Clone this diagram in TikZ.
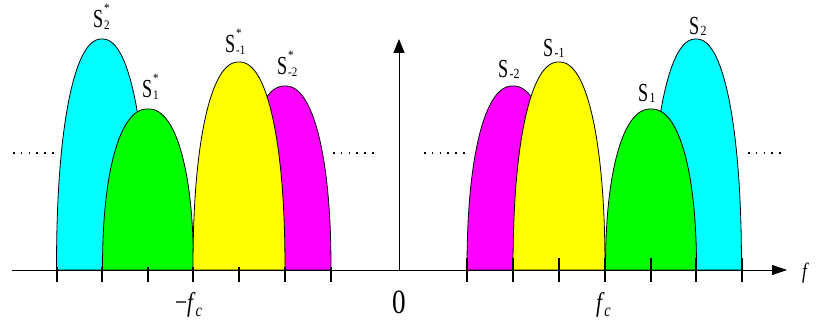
\documentclass[tikz,border=0pt]{standalone}
\usepackage{fontspec}
\setmainfont{Liberation Serif}
\newfontfamily\lblfont[FakeStretch=0.7]{Liberation Serif}
\newfontfamily\subfont[FakeStretch=0.85]{Liberation Serif}
\newfontfamily\tickfont[FakeStretch=0.8]{Liberation Serif}
\usetikzlibrary{arrows.meta}
\definecolor{lcyan}{RGB}{0,255,255}
\definecolor{lgreen}{RGB}{0,255,0}
\definecolor{lyellow}{RGB}{255,255,0}
\definecolor{lmagenta}{RGB}{255,0,255}
\tikzset{
  lobe/.style={draw=black, line width=0.8pt},
  axisline/.style={draw=black, line width=0.8pt},
  tickmark/.style={draw=black, line width=1.3pt},
  dotline/.style={draw=black, line width=1.6pt, dash pattern=on 1.6pt off 6.2pt},
  lbl/.style={anchor=base west, inner sep=0pt, outer sep=0pt},
}
\newcommand\lobeshape[4]{%
  \filldraw[lobe, fill=#4] (#1-#2,270) -- plot[variable=\t, domain=0.5:179.5, samples=180]
    ({#1-#2*cos(\t)/pow(abs(cos(\t)),0.1)}, {270-#3*pow(sin(\t),0.9)}) -- (#1+#2,270) -- cycle;}
\newcommand\Sbig{{\lblfont\fontsize{26}{26}\selectfont S}}
\newcommand\Sstar[1]{\Sbig\kern1pt\rlap{\raisebox{15pt}{\subfont\fontsize{13}{13}\selectfont *}}\raisebox{-2pt}{\subfont\fontsize{13}{13}\selectfont #1}}
\newcommand\Splain[1]{\Sbig\kern1.5pt\raisebox{-1pt}{\subfont\fontsize{14}{14}\selectfont #1}}
\begin{document}
\begin{tikzpicture}[x=1pt,y=-1pt]
\path[use as bounding box] (0,0) rectangle (817,326);
% left lobes
\lobeshape{102}{45.5}{231}{lcyan}
\lobeshape{148}{45.5}{161}{lgreen}
\lobeshape{285}{46}{184}{lmagenta}
\lobeshape{239}{46}{208}{lyellow}
% right lobes
\lobeshape{513}{46}{184}{lmagenta}
\lobeshape{559}{46}{208}{lyellow}
\lobeshape{696}{45.5}{231}{lcyan}
\lobeshape{651}{45.5}{161}{lgreen}
% axes
\coordinate (xstart) at (12,270);
\coordinate (xend) at (787,270);
\coordinate (ybase) at (399,270);
\coordinate (yend) at (399,39);
\draw[axisline, -{Triangle[length=15pt,width=10pt]}] (xstart) -- (xend);
\draw[axisline, -{Triangle[length=14pt,width=11pt]}] (ybase) -- (yend);
% ticks
\foreach \x in {57,102,148,193,239,285,331} \draw[tickmark] (\x,267) -- (\x,282);
\foreach \x in {467,513,559,605,651,696,742} \draw[tickmark] (\x,258) -- (\x,282);
% dotted continuation lines
\draw[dotline] (13,153) -- (55,153);
\draw[dotline] (333,153) -- (375,153);
\draw[dotline] (424,153) -- (466,153);
\draw[dotline] (748,153) -- (786,153);
% lobe labels
\node[lbl] (s2s) at (93,28) {\Sstar{2}};
\node[lbl] (s1s) at (142,98) {\Sstar{1}};
\node[lbl] (sm1s) at (225,53) {\Sstar{-1}};
\node[lbl] (sm2s) at (277,75) {\Sstar{-2}};
\node[lbl] (sm2) at (498,78) {\Splain{-2}};
\node[lbl] (sm1) at (543,57) {\Splain{-1}};
\node[lbl] (s1) at (638,102) {\Splain{1}};
\node[lbl] (s2) at (689,35) {\Splain{2}};
% axis labels
\node[lbl] (mfc) at (175,311) {\tickfont\fontsize{27}{27}\selectfont −\textit{f}\raisebox{-5pt}{\fontsize{18}{18}\selectfont\textit{c}}};
\node[anchor=base, inner sep=0pt] (zero) at (399,313) {\tickfont\fontsize{34}{34}\selectfont 0};
\node[lbl] (fc) at (596,311) {\tickfont\fontsize{27}{27}\selectfont\textit{f}\raisebox{-5pt}{\fontsize{18}{18}\selectfont\textit{c}}};
\node[lbl] (flab) at (802,278) {\tickfont\fontsize{22}{22}\selectfont\textit{f}};
\end{tikzpicture}
\end{document}
